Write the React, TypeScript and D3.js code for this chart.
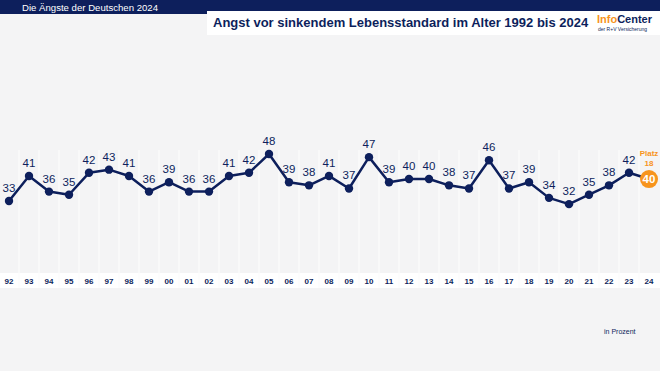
import React from "react";
import * as d3 from "d3";

const years = ["92","93","94","95","96","97","98","99","00","01","02","03","04","05","06","07","08","09","10","11","12","13","14","15","16","17","18","19","20","21","22","23","24"];
const values = [33,41,36,35,42,43,41,36,39,36,36,41,42,48,39,38,41,37,47,39,40,40,38,37,46,37,39,34,32,35,38,42,40];

const headerText = "Die Ängste der Deutschen 2024";
const title = "Angst vor sinkendem Lebensstandard im Alter 1992 bis 2024";
const rankLabel = ["Platz", "18"];
const unitLabel = "in Prozent";

const W = 660;
const H = 371;
const NAVY = "#0d1f5c";
const ORANGE = "#f7941d";
const FONT = "'Liberation Sans', Arial, sans-serif";

export default function App() {
  const x = d3.scalePoint<string>().domain(years).range([9, 649]);
  const y = d3.scaleLinear().domain([33, 48]).range([201, 154]);
  const step = x.step();

  const line = d3
    .line<number>()
    .x((_, i) => x(years[i])!)
    .y((d) => y(d));

  const last = values.length - 1;

  return (
    <svg
      width={W}
      height={H}
      style={{ position: "absolute", left: 0, top: 0, fontFamily: FONT }}
    >
      <rect width={W} height={H} fill="#f4f4f5" />
      {/* header */}
      <rect width={W} height={14} fill={NAVY} />
      <text x={22} y={10.5} fill="#fff" fontSize={9.6}>
        {headerText}
      </text>
      <rect x={207} y={11} width={W - 207} height={24} fill="#fff" />
      <text x={213} y={26.5} fill={NAVY} fontSize={13} fontWeight="bold">
        {title}
      </text>
      <text x={597} y={23} fontSize={11} fontWeight="bold">
        <tspan fill={ORANGE}>Info</tspan>
        <tspan fill={NAVY}>Center</tspan>
      </text>
      <text x={598} y={30.5} fontSize={5} fill={NAVY}>
        der R+V Versicherung
      </text>

      {/* label row + column separators */}
      <rect x={0} y={273} width={W} height={15} fill="#fff" />
      {years.slice(0, -1).map((yr) => (
        <line
          key={"g" + yr}
          x1={x(yr)! + step / 2}
          x2={x(yr)! + step / 2}
          y1={150}
          y2={288}
          stroke="#fcfcfc"
          strokeWidth={1.2}
        />
      ))}
      {years.map((yr) => (
        <text
          key={"t" + yr}
          x={x(yr)}
          y={284}
          textAnchor="middle"
          fontSize={8}
          fontWeight="bold"
          fill={NAVY}
        >
          {yr}
        </text>
      ))}

      {/* line + points */}
      <path d={line(values) || ""} fill="none" stroke={NAVY} strokeWidth={2.5} strokeLinejoin="round" />
      {values.map((v, i) =>
        i === last ? null : (
          <g key={"p" + i}>
            <circle cx={x(years[i])} cy={y(v)} r={4.2} fill={NAVY} />
            <text
              x={x(years[i])}
              y={y(v) - 9}
              textAnchor="middle"
              fontSize={11.5}
              fill={NAVY}
            >
              {v}
            </text>
          </g>
        )
      )}
      <circle cx={x(years[last])} cy={y(values[last])} r={9} fill={ORANGE} />
      <text
        x={x(years[last])}
        y={y(values[last]) + 4}
        textAnchor="middle"
        fontSize={11.5}
        fontWeight="bold"
        fill="#fff"
      >
        {values[last]}
      </text>
      <text x={x(years[last])} y={156} textAnchor="middle" fontSize={8} fontWeight="bold" fill={ORANGE}>
        {rankLabel[0]}
      </text>
      <text x={x(years[last])} y={165.5} textAnchor="middle" fontSize={8} fontWeight="bold" fill={ORANGE}>
        {rankLabel[1]}
      </text>

      <text x={604} y={334} fontSize={7} fill={NAVY}>
        {unitLabel}
      </text>
    </svg>
  );
}
